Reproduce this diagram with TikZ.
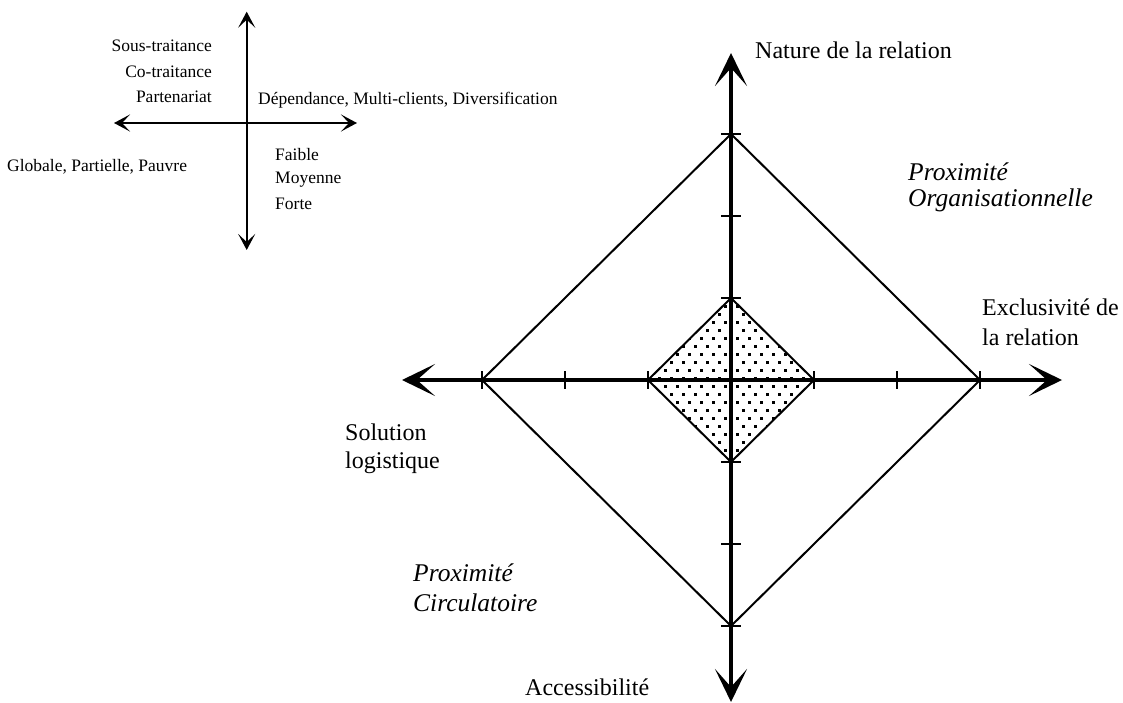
\documentclass[tikz,border=0pt]{standalone}
\usepackage{fontspec}
\setmainfont{Liberation Serif}
\usetikzlibrary{arrows.meta}
\begin{document}
\begin{tikzpicture}[x=1pt,y=-1pt,
  big/.style={font=\fontsize{24}{28}\selectfont, inner sep=0pt},
  bigit/.style={font=\fontsize{25.5}{28}\selectfont\itshape, inner sep=0pt},
  small/.style={font=\fontsize{17.5}{20}\selectfont, inner sep=0pt},
  mainaxis/.style={line width=4pt, {Stealth[length=33pt,width=32pt,inset=18pt]}-{Stealth[length=33pt,width=32pt,inset=18pt]}},
  smallaxis/.style={line width=2.3pt, {Stealth[length=16pt,width=17pt,inset=8pt]}-{Stealth[length=16pt,width=17pt,inset=8pt]}},
  tickline/.style={line width=1.8pt},
  diamondline/.style={line width=2pt, line join=miter}
]
\useasboundingbox (0,0) rectangle (1123,703);

% ---------- small legend cross ----------
\coordinate (lt) at (246.7,11.7);
\coordinate (lb) at (246.7,250);
\coordinate (ll) at (114,123);
\coordinate (lr) at (357,123);
\draw[smallaxis] (lt) -- (lb);
\draw[smallaxis] (ll) -- (lr);

\node[small, anchor=east] (sous) at (212,46) {Sous-traitance};
\node[small, anchor=east] (cotr) at (212,72) {Co-traitance};
\node[small, anchor=east] (part) at (212,97) {Partenariat};
\node[small, anchor=west] (dep) at (258,100) {Dépendance, Multi-clients, Diversification};
\node[small, anchor=west] (glob) at (7,167) {Globale, Partielle, Pauvre};
\node[small, anchor=west] (faible) at (275,155) {Faible};
\node[small, anchor=west] (moy) at (275,180) {Moyenne};
\node[small, anchor=west] (forte) at (275,204) {Forte};

% ---------- main diagram ----------
\coordinate (c) at (731,380);
% big diamond
\coordinate (bl) at (482,380);
\coordinate (bt) at (731,134);
\coordinate (br) at (980,380);
\coordinate (bb) at (731,626);
% small diamond
\coordinate (sl) at (648,380);
\coordinate (st) at (731,298);
\coordinate (sr) at (814,380);
\coordinate (sb) at (731,462);

\draw[diamondline] (bl) -- (bt) -- (br) -- (bb) -- cycle;

\begin{scope}
  \clip (sl) -- (st) -- (sr) -- (sb) -- cycle;
  \foreach \j in {0,...,21} {
    \foreach \i in {0,...,15} {
      \fill ({646 + 12*\i + 6*mod(\j,2)}, {297 + 8*\j}) rectangle +(2.6,2.6);
    }
  }
\end{scope}
\draw[diamondline] (sl) -- (st) -- (sr) -- (sb) -- cycle;

% axes
\coordinate (al) at (402,380);
\coordinate (ar) at (1062,380);
\coordinate (at) at (731,53);
\coordinate (ab) at (731,702);
\draw[mainaxis] (al) -- (ar);
\draw[mainaxis] (ab) -- (at);

% ticks
\foreach \x in {482,565,648,814,897,980} {
  \draw[tickline] (\x,371) -- (\x,389);
}
\foreach \y in {134,216,298,462,544,626} {
  \draw[tickline] (721,\y) -- (741,\y);
}

% labels
\node[big, anchor=west] (nature) at (755,50) {Nature de la relation};
\node[big, anchor=west] (excl1) at (982,307) {Exclusivité de};
\node[big, anchor=west] (excl2) at (982,337) {la relation};
\node[big, anchor=west] (sol1) at (345,432) {Solution};
\node[big, anchor=west] (sol2) at (345,463) {logistique};
\node[big, anchor=west] (acc) at (525,687) {Accessibilité};
\node[bigit, anchor=west] (po1) at (908,172) {Proximité};
\node[bigit, anchor=west] (po2) at (908,200) {Organisationnelle};
\node[bigit, anchor=west] (pc1) at (413,573) {Proximité};
\node[bigit, anchor=west] (pc2) at (413,603) {Circulatoire};
\end{tikzpicture}
\end{document}
